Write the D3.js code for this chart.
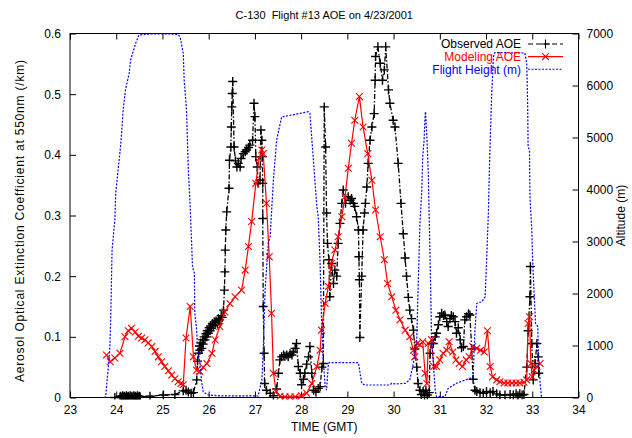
<!DOCTYPE html>
<html>
<head>
<meta charset="utf-8">
<script src="https://cdn.jsdelivr.net/npm/d3@7"></script>
<style>
  html, body { margin: 0; padding: 0; background: #fff; }
  svg { display: block; font-family: "Liberation Sans", Arial, sans-serif; }
</style>
</head>
<body>
<svg id="chart" width="632" height="438"></svg>
<script>
// Time axis (GMT hours) and tick labels
const xTicks = [23, 24, 25, 26, 27, 28, 29, 30, 31, 32, 33, 34];
const yTicks = [0, 0.1, 0.2, 0.3, 0.4, 0.5, 0.6];
const y2Ticks = [0, 1000, 2000, 3000, 4000, 5000, 6000, 7000];

// Observed AOE (/km)
const obsTime = [23.97,24.08,24.10,24.12,24.14,24.16,24.18,24.20,24.22,24.24,24.26,24.28,24.30,24.32,24.34,24.36,24.38,24.40,24.42,24.44,
  24.46,24.48,24.50,24.52,24.73,25.02,25.27,25.45,25.51,25.56,25.62,25.67,
  25.74,25.76,25.78,25.80,25.81,25.83,25.85,25.87,25.88,25.90,25.92,25.94,25.96,25.97,25.99,26.01,26.03,26.04,26.06,26.08,
  26.10,26.12,26.14,26.16,26.19,26.21,26.24,26.27,26.29,26.32,26.34,26.35,26.36,26.37,26.39,
  26.44,26.45,26.48,26.49,26.50,26.51,26.52,26.55,26.58,26.61,26.64,26.68,26.70,26.75,26.79,26.82,26.86,26.89,26.95,26.98,
  27.00,27.02,27.05,27.07,27.11,27.13,27.15,27.16,27.17,27.17,27.18,27.20,27.21,27.25,27.33,27.40,27.47,27.51,27.54,27.58,
  27.62,27.65,27.69,27.72,27.76,27.80,27.83,27.87,27.90,27.94,27.98,28.01,28.05,28.08,28.12,28.16,28.19,28.23,28.27,28.32,
  28.37,28.41,28.45,28.48,28.50,28.53,28.55,28.57,28.60,28.62,28.66,28.70,28.73,28.77,28.80,28.84,28.88,28.91,28.96,29.02,
  29.06,29.09,29.13,29.16,29.20,29.24,29.25,29.26,29.27,29.31,29.34,29.37,29.39,29.42,29.45,29.49,29.53,29.58,29.60,29.61,
  29.66,29.71,29.76,29.80,29.83,29.89,29.92,29.99,30.03,30.10,30.16,30.21,30.25,30.28,30.32,30.35,30.39,30.43,30.46,30.50,
  30.53,30.57,30.60,30.64,30.67,30.70,30.73,30.77,30.79,30.82,30.86,30.90,30.93,30.97,31.00,31.04,31.08,31.11,31.15,31.18,
  31.22,31.25,31.29,31.33,31.36,31.40,31.44,31.47,31.51,31.54,31.58,31.62,31.65,31.69,31.72,31.76,31.80,31.87,31.94,32.01,
  32.09,32.15,32.23,32.30,32.41,32.52,32.59,32.65,32.69,32.73,32.78,32.82,32.88,32.91,32.95,32.96,32.99,33.02,33.06,33.10,
  33.13,33.14];
const obsAOE = [0.000,0.001,0.002,0.000,0.003,0.001,0.002,0.000,0.003,0.001,0.002,0.000,0.003,0.001,0.002,0.000,0.003,0.001,0.002,0.000,
  0.003,0.001,0.002,0.001,0.002,0.004,0.005,0.011,0.012,0.009,0.007,0.008,
  0.029,0.060,0.073,0.085,0.078,0.090,0.081,0.095,0.088,0.100,0.095,0.105,0.100,0.110,0.106,0.115,0.110,0.118,0.114,0.122,
  0.118,0.125,0.120,0.126,0.122,0.130,0.128,0.135,0.132,0.144,0.177,0.207,0.243,0.276,0.306,
  0.345,0.391,0.413,0.446,0.479,0.501,0.521,0.413,0.390,0.380,0.386,0.380,0.394,0.402,0.405,0.408,0.412,0.416,0.424,0.485,
  0.463,0.397,0.380,0.353,0.358,0.441,0.424,0.397,0.353,0.295,0.150,0.073,0.023,0.012,0.007,0.003,0.014,0.040,0.062,0.067,
  0.070,0.068,0.070,0.067,0.072,0.070,0.075,0.081,0.089,0.051,0.040,0.021,0.030,0.040,0.055,0.067,0.084,0.040,0.012,0.009,
  0.015,0.018,0.050,0.056,0.479,0.413,0.304,0.254,0.227,0.166,0.221,0.188,0.210,0.200,0.254,0.287,0.320,0.342,0.320,0.331,
  0.325,0.328,0.320,0.315,0.298,0.276,0.232,0.194,0.099,0.200,0.276,0.304,0.320,0.347,0.386,0.424,0.446,0.468,0.523,0.562,
  0.578,0.551,0.523,0.540,0.578,0.507,0.485,0.457,0.446,0.386,0.320,0.270,0.230,0.200,0.165,0.144,0.130,0.111,0.080,0.050,
  0.023,0.012,0.005,0.010,0.003,0.012,0.004,0.008,0.073,0.089,0.089,0.100,0.106,0.120,0.133,0.139,0.135,0.136,0.125,0.117,
  0.130,0.135,0.133,0.125,0.106,0.115,0.095,0.082,0.084,0.128,0.133,0.138,0.136,0.080,0.030,0.012,0.010,0.008,0.007,0.010,
  0.008,0.010,0.006,0.004,0.004,0.005,0.004,0.006,0.003,0.006,0.004,0.005,0.050,0.110,0.166,0.216,0.089,0.029,0.056,0.089,
  0.067,0.040];

// Modeling AOE (/km)
const modelTime = [23.79,23.87,23.97,24.08,24.19,24.26,24.33,24.41,24.48,24.55,24.62,24.69,24.77,24.84,24.91,24.98,25.05,25.13,25.20,25.27,
  25.34,25.40,25.45,25.51,25.60,25.67,25.74,25.81,25.88,25.96,26.07,26.14,26.24,26.35,26.46,26.57,26.71,26.79,26.86,26.93,
  27.02,27.09,27.15,27.18,27.25,27.31,27.36,27.40,27.46,27.54,27.65,27.76,27.87,28.01,28.12,28.23,28.34,28.41,28.44,28.52,
  28.59,28.65,28.73,28.80,28.88,28.95,29.02,29.09,29.16,29.26,29.34,29.44,29.53,29.61,29.71,29.80,29.87,29.96,30.05,30.14,
  30.25,30.35,30.43,30.46,30.51,30.57,30.63,30.68,30.72,30.75,30.82,30.87,30.93,31.00,31.07,31.15,31.20,31.28,31.35,31.42,
  31.49,31.57,31.64,31.71,31.80,31.88,31.96,32.03,32.09,32.14,32.23,32.30,32.39,32.47,32.56,32.65,32.73,32.82,32.88,32.91,
  32.94,32.97,33.00,33.04,33.10,33.17];
const modelAOE = [0.070,0.059,0.065,0.073,0.100,0.110,0.114,0.108,0.101,0.098,0.095,0.090,0.084,0.076,0.067,0.059,0.051,0.044,0.037,0.031,
  0.026,0.023,0.021,0.098,0.150,0.067,0.045,0.043,0.050,0.056,0.073,0.095,0.117,0.141,0.155,0.166,0.177,0.210,0.249,0.290,
  0.353,0.394,0.408,0.402,0.320,0.232,0.139,0.040,0.010,0.002,0.001,0.001,0.001,0.003,0.007,0.023,0.051,0.078,0.111,0.155,
  0.183,0.221,0.243,0.265,0.298,0.331,0.378,0.419,0.457,0.496,0.446,0.402,0.358,0.309,0.265,0.227,0.188,0.166,0.144,0.128,
  0.111,0.100,0.078,0.067,0.089,0.087,0.092,0.040,0.023,0.089,0.095,0.051,0.051,0.062,0.073,0.078,0.092,0.075,0.062,0.056,
  0.051,0.062,0.067,0.084,0.081,0.078,0.075,0.110,0.051,0.034,0.029,0.026,0.024,0.024,0.024,0.024,0.024,0.025,0.029,0.122,
  0.133,0.056,0.034,0.045,0.051,0.056];

// Flight height (m)
const heightTime = [23.735,23.77,23.83,23.86,23.88,23.91,23.97,23.99,24.04,24.06,24.10,24.15,24.20,24.28,24.31,24.42,24.49,24.73,25.16,25.34,
  25.38,25.45,25.47,25.52,25.56,25.60,25.65,25.69,25.70,25.74,25.76,25.81,25.85,25.88,25.99,26.24,26.68,27.07,27.15,27.18,
  27.22,27.29,27.33,27.40,27.47,27.58,27.69,27.98,28.15,28.19,28.26,28.34,28.37,28.41,28.44,28.48,28.52,28.55,28.59,28.62,
  29.24,29.31,29.38,29.92,29.96,30.05,30.25,30.35,30.43,30.50,30.53,30.57,30.61,30.63,30.66,30.68,30.69,30.72,30.75,30.77,
  30.80,30.82,30.86,30.90,30.93,31.11,31.18,31.36,31.65,31.72,31.76,31.80,31.91,31.98,32.01,32.05,32.08,32.12,32.16,32.19,
  32.84,32.88,32.90,32.91,32.94,32.95,32.99,33.01,33.04,33.07,33.12,33.13,33.17,33.20];
const heightAlt = [0,15,592,913,1490,2836,3413,3933,4375,4535,4894,5528,5913,6234,6490,6811,6971,6990,6990,6980,
  6938,6619,6106,5528,4375,3669,2515,2394,1625,1298,913,663,279,112,48,33,33,29,337,913,
  2067,2971,3092,4183,4952,5400,5413,5465,5496,5465,4631,3669,3477,2586,1554,721,208,144,658,669,
  669,273,240,240,273,260,273,337,663,1106,2067,3356,3990,4631,4952,5400,5496,5015,4317,3477,
  2202,1169,663,144,15,15,177,273,369,400,1298,1811,1842,1938,2581,3542,4631,5784,6554,6634,
  6625,6427,5658,4823,4760,3861,3221,2581,2004,1427,1361,913,273,15];

const svg = d3.select("#chart");
const plotLeft = 70, plotRight = 578.5, plotTop = 33.5, plotBottom = 397.5;

const x = d3.scaleLinear().domain([23, 34]).range([plotLeft, plotRight]);
const y = d3.scaleLinear().domain([0, 0.6]).range([plotBottom, plotTop]);
const y2 = d3.scaleLinear().domain([0, 7000]).range([plotBottom, plotTop]);

const fontSize = 12;

// Title
svg.append("text")
  .attr("x", (plotLeft + plotRight) / 2).attr("y", 19)
  .attr("text-anchor", "middle").attr("font-size", 11)
  .style("white-space", "pre")
  .text("C-130  Flight #13 AOE on 4/23/2001");

// Axes with inward ticks
const gx = svg.append("g").attr("transform", `translate(0,${plotBottom})`)
  .call(d3.axisBottom(x).tickValues(xTicks).tickFormat(d3.format("d")).tickSizeInner(-6).tickSizeOuter(0).tickPadding(8));
const gxTop = svg.append("g").attr("transform", `translate(0,${plotTop})`)
  .call(d3.axisTop(x).tickValues(xTicks).tickFormat("").tickSizeInner(-6).tickSizeOuter(0));
const gy = svg.append("g").attr("transform", `translate(${plotLeft},0)`)
  .call(d3.axisLeft(y).tickValues(yTicks).tickFormat(d => d === 0 ? "0" : d3.format(".1f")(d)).tickSizeInner(-6).tickSizeOuter(0).tickPadding(9));
const gy2 = svg.append("g").attr("transform", `translate(${plotRight},0)`)
  .call(d3.axisRight(y2).tickValues(y2Ticks).tickFormat(d3.format("d")).tickSizeInner(-6).tickSizeOuter(0).tickPadding(8));

[gx, gxTop, gy, gy2].forEach(g => {
  g.select(".domain").remove();
  g.selectAll("line").attr("stroke", "#000").attr("stroke-width", 1);
  g.selectAll("text").attr("font-size", fontSize).attr("fill", "#000")
    .attr("font-family", "'Liberation Sans', Arial, sans-serif");
});

// Plot border
svg.append("rect")
  .attr("x", plotLeft).attr("y", plotTop)
  .attr("width", plotRight - plotLeft).attr("height", plotBottom - plotTop)
  .attr("fill", "none").attr("stroke", "#000").attr("stroke-width", 1);

// Axis titles
svg.append("text")
  .attr("transform", "translate(24,221) rotate(-90)")
  .attr("text-anchor", "middle").attr("font-size", 12)
  .attr("textLength", 322).attr("lengthAdjust", "spacing")
  .text("Aerosol Optical Extinction Coefficient at 550nm (/km)");
svg.append("text")
  .attr("transform", `translate(625,${(plotTop + plotBottom) / 2}) rotate(-90)`)
  .attr("text-anchor", "middle").attr("font-size", fontSize)
  .text("Altitude (m)");
svg.append("text")
  .attr("x", (plotLeft + plotRight) / 2).attr("y", 431)
  .attr("text-anchor", "middle").attr("font-size", fontSize)
  .text("TIME (GMT)");

// Clip region for the series
svg.append("defs").append("clipPath").attr("id", "plotClip")
  .append("rect").attr("x", plotLeft).attr("y", plotTop - 2)
  .attr("width", plotRight - plotLeft).attr("height", plotBottom - plotTop + 4);

const plot = svg.append("g").attr("clip-path", "url(#plotClip)");

const plusPath = "M-4.5,0H4.5M0,-4.5V4.5";
const crossPath = "M-3.4,-3.4L3.4,3.4M-3.4,3.4L3.4,-3.4";

// Observed AOE: dash-dot line with plus markers
const obs = obsTime.map((t, i) => [t, obsAOE[i]]);
plot.append("path")
  .attr("d", d3.line().x(d => x(d[0])).y(d => y(d[1]))(obs))
  .attr("fill", "none").attr("stroke", "#000").attr("stroke-width", 1.3)
  .attr("stroke-dasharray", "5,2,1.5,2");
plot.append("g").selectAll("path").data(obs).join("path")
  .attr("transform", d => `translate(${x(d[0])},${y(d[1])})`)
  .attr("d", plusPath).attr("stroke", "#000").attr("stroke-width", 1.4).attr("fill", "none");

// Modeling AOE: solid red line with cross markers
const model = modelTime.map((t, i) => [t, modelAOE[i]]);
plot.append("path")
  .attr("d", d3.line().x(d => x(d[0])).y(d => y(d[1]))(model))
  .attr("fill", "none").attr("stroke", "#ff0000").attr("stroke-width", 1.2);
plot.append("g").selectAll("path").data(model).join("path")
  .attr("transform", d => `translate(${x(d[0])},${y(d[1])})`)
  .attr("d", crossPath).attr("stroke", "#ff0000").attr("stroke-width", 1.1).attr("fill", "none");

// Flight height on the right axis: blue dotted line
const height = heightTime.map((t, i) => [t, heightAlt[i]]);
plot.append("path")
  .attr("d", d3.line().x(d => x(d[0])).y(d => y2(d[1]))(height))
  .attr("fill", "none").attr("stroke", "#0000ff").attr("stroke-width", 1.2)
  .attr("stroke-dasharray", "2,1.5");

// Legend
const legendItems = [
  { label: "Observed AOE", color: "#000", dash: "5,3", marker: plusPath },
  { label: "Modeling AOE", color: "#ff0000", dash: null, marker: crossPath },
  { label: "Flight Height (m)", color: "#0000ff", dash: "2,1.5", marker: null }
];
const legend = svg.append("g");
legendItems.forEach((it, i) => {
  const cy = 44 + i * 12.6;
  legend.append("text")
    .attr("x", 521).attr("y", cy + 4.3)
    .attr("text-anchor", "end").attr("font-size", fontSize).attr("fill", it.color)
    .text(it.label);
  legend.append("line")
    .attr("x1", 528).attr("x2", 563).attr("y1", cy).attr("y2", cy)
    .attr("stroke", it.color).attr("stroke-width", 1.1)
    .attr("stroke-dasharray", it.dash);
  if (it.marker) {
    legend.append("path").attr("transform", `translate(545.5,${cy})`)
      .attr("d", it.marker).attr("stroke", it.color).attr("stroke-width", 1.1).attr("fill", "none");
  }
});
</script>
</body>
</html>
